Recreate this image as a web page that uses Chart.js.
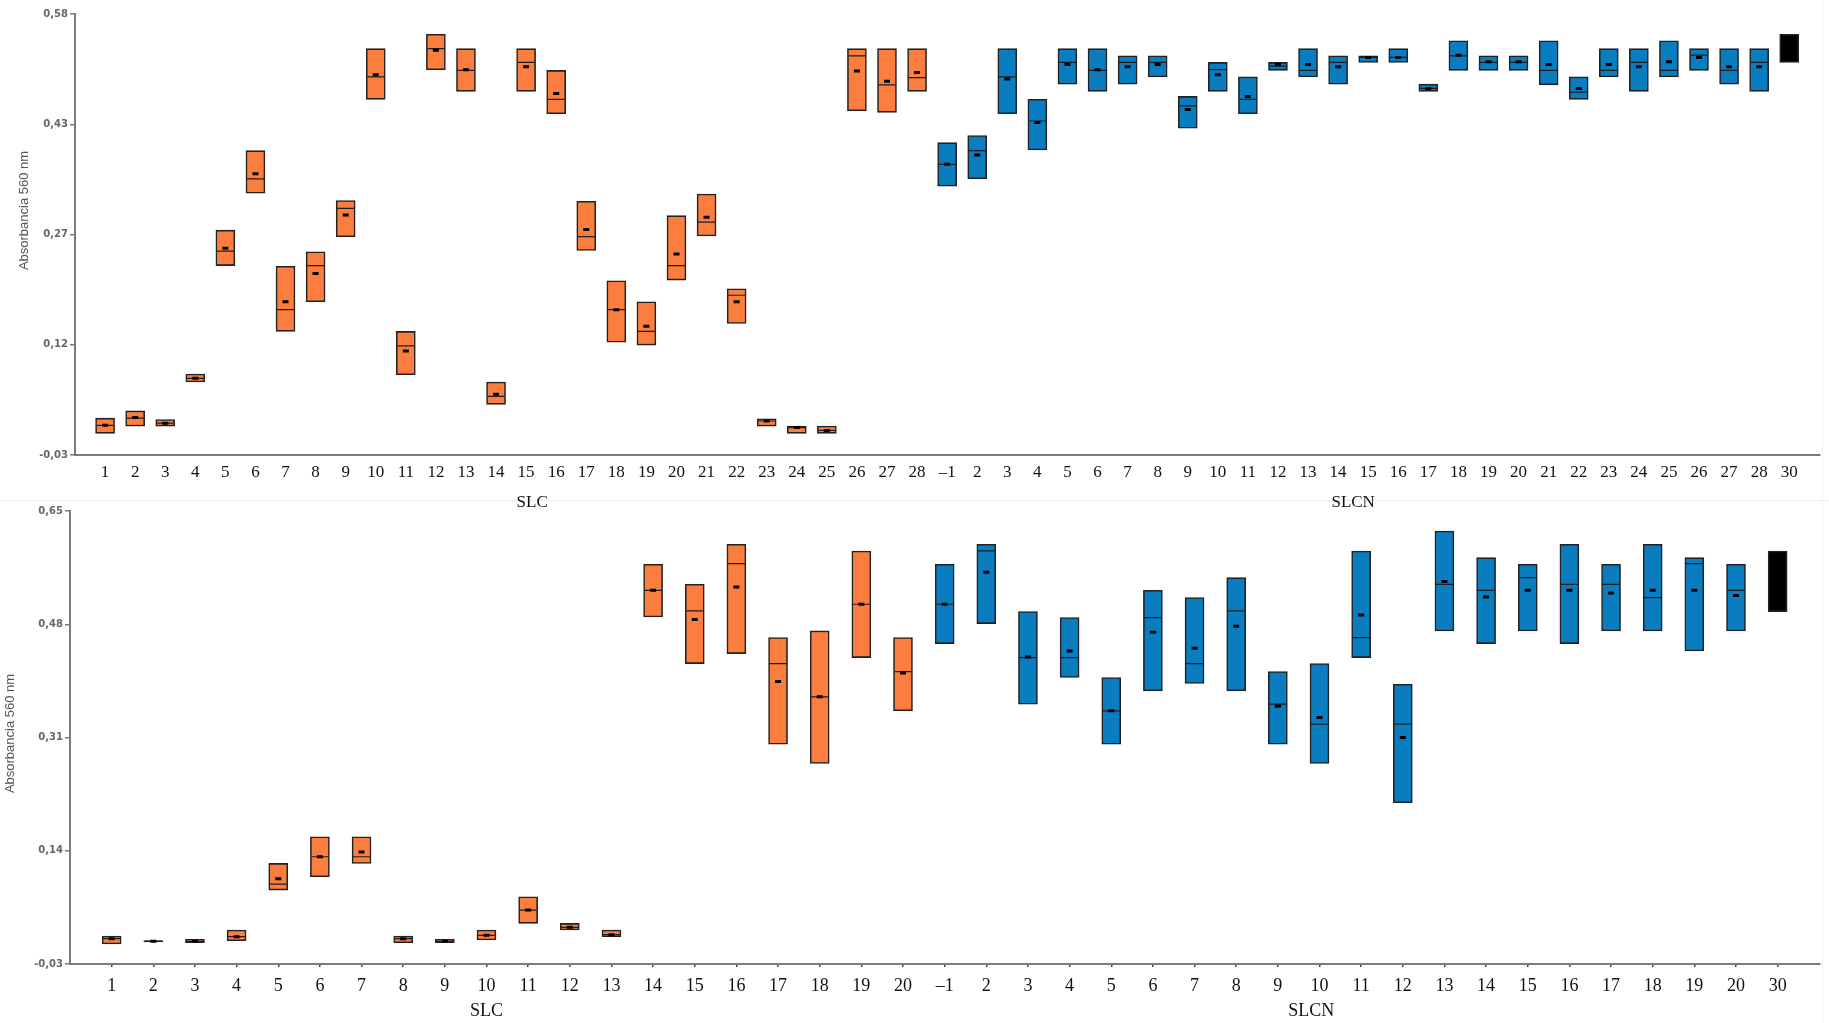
<!DOCTYPE html>
<html>
<head>
<meta charset="utf-8">
<script src="https://cdn.jsdelivr.net/npm/chart.js@4.4.1/dist/chart.umd.min.js"></script>
<style>
  body { margin: 0; background: #fff; width: 1829px; height: 1023px; position: relative; overflow: hidden; }
  canvas { position: absolute; left: 0; }
  #chart1 { top: 0; }
  #chart2 { top: 500px; }
  .sep { position: absolute; left: 0; top: 500px; width: 1829px; height: 1px; background: #ececec; }
  .vsep { position: absolute; left: 1822px; top: 0; width: 1px; height: 1023px; background: #f2f2f2; }
</style>
</head>
<body>
<div class="sep"></div>
<div class="vsep"></div>
<canvas id="chart1" width="1829" height="515"></canvas>
<canvas id="chart2" width="1829" height="523"></canvas>
<script>
// Etiquetas del eje X (panel superior)
const slcTop = ['1','2','3','4','5','6','7','8','9','10','11','12','13','14','15','16','17','18','19','20','21','22','23','24','25','26','27','28'];
const slcnTop = ['–1','2','3','4','5','6','7','8','9','10','11','12','13','14','15','16','17','18','19','20','21','22','23','24','25','26','27','28'];
const ctrlTop = ['30'];

// Panel superior: caja (min - max), mediana y media
const topLow = [0.000,0.010,0.010,0.071,0.232,0.332,0.141,0.182,0.272,0.462,0.081,0.503,0.473,0.040,0.473,0.442,0.253,0.126,0.122,0.212,0.273,0.152,0.010,0.000,0.000,0.446,0.444,0.473,
  0.342,0.352,0.442,0.392,0.483,0.473,0.483,0.493,0.422,0.473,0.442,0.502,0.493,0.483,0.513,0.513,0.473,0.502,0.502,0.502,0.482,0.462,0.493,0.473,0.493,0.502,0.483,0.473,
  0.513];
const topHigh = [0.021,0.031,0.019,0.082,0.281,0.391,0.231,0.251,0.322,0.532,0.141,0.552,0.532,0.071,0.532,0.502,0.321,0.211,0.182,0.301,0.331,0.200,0.020,0.010,0.010,0.532,0.532,0.532,
  0.402,0.412,0.532,0.462,0.532,0.532,0.522,0.522,0.466,0.513,0.493,0.513,0.532,0.522,0.522,0.532,0.483,0.543,0.522,0.522,0.543,0.493,0.532,0.532,0.543,0.532,0.532,0.532,
  0.552];
const topMedian = [0.011,0.021,0.014,0.076,0.252,0.352,0.171,0.232,0.311,0.493,0.121,0.532,0.502,0.051,0.513,0.462,0.272,0.171,0.141,0.232,0.292,0.191,0.017,0.008,0.004,0.522,0.482,0.492,
  0.372,0.391,0.493,0.432,0.513,0.502,0.513,0.513,0.453,0.503,0.462,0.508,0.502,0.513,0.520,0.520,0.477,0.522,0.513,0.513,0.502,0.472,0.502,0.513,0.502,0.523,0.502,0.513,
  null];
const topMean = [0.011,0.022,0.014,0.076,0.256,0.359,0.182,0.221,0.302,0.496,0.114,0.530,0.503,0.054,0.507,0.470,0.282,0.171,0.148,0.248,0.299,0.182,0.017,0.008,0.004,0.501,0.487,0.499,
  0.372,0.385,0.490,0.430,0.510,0.503,0.507,0.510,0.448,0.496,0.466,0.510,0.510,0.507,0.520,0.520,0.477,0.523,0.514,0.514,0.510,0.477,0.510,0.507,0.514,0.520,0.507,0.507,
  null];
const topYTicks = [-0.03, 0.1225, 0.275, 0.4275, 0.58];
const topYLabels = ['-0,03', '0,12', '0,27', '0,43', '0,58'];

// Etiquetas del eje X (panel inferior)
const slcBottom = ['1','2','3','4','5','6','7','8','9','10','11','12','13','14','15','16','17','18','19','20'];
const slcnBottom = ['–1','2','3','4','5','6','7','8','9','10','11','12','13','14','15','16','17','18','19','20'];
const ctrlBottom = ['30'];

// Panel inferior
const bottomLow = [0.000,0.003,0.002,0.005,0.081,0.101,0.121,0.002,0.002,0.006,0.031,0.021,0.011,0.491,0.421,0.436,0.300,0.271,0.430,0.350,
  0.451,0.481,0.360,0.400,0.300,0.380,0.391,0.380,0.300,0.271,0.430,0.212,0.470,0.451,0.470,0.451,0.470,0.470,0.440,0.470,
  0.499];
const bottomHigh = [0.012,0.005,0.007,0.021,0.121,0.161,0.161,0.012,0.007,0.021,0.071,0.031,0.021,0.570,0.540,0.600,0.460,0.470,0.590,0.460,
  0.570,0.600,0.499,0.490,0.400,0.531,0.520,0.550,0.409,0.421,0.590,0.390,0.620,0.580,0.570,0.600,0.570,0.600,0.580,0.570,
  0.590];
const bottomMedian = [0.008,0.004,0.004,0.011,0.090,0.131,0.131,0.008,0.004,0.013,0.051,0.025,0.014,0.531,0.500,0.571,0.421,0.371,0.510,0.409,
  0.510,0.590,0.430,0.430,0.350,0.490,0.421,0.500,0.360,0.330,0.460,0.330,0.540,0.531,0.550,0.540,0.540,0.520,0.571,0.531,
  null];
const bottomMean = [0.008,0.004,0.004,0.011,0.098,0.131,0.138,0.008,0.004,0.013,0.051,0.025,0.014,0.531,0.487,0.536,0.394,0.371,0.510,0.407,
  0.510,0.558,0.431,0.440,0.350,0.468,0.444,0.477,0.357,0.340,0.494,0.310,0.544,0.521,0.531,0.531,0.527,0.531,0.531,0.523,
  null];
const bottomYTicks = [-0.03, 0.14, 0.31, 0.48, 0.65];
const bottomYLabels = ['-0,03', '0,14', '0,31', '0,48', '0,65'];

const ORANGE = '#FC7E3E';
const BLUE = '#0A7DC0';
const BLACK = '#000000';

// Colores por grupo
function groupColors(nSlc, nSlcn, nCtrl) {
    return [].concat(Array(nSlc).fill(ORANGE), Array(nSlcn).fill(BLUE), Array(nCtrl).fill(BLACK));
}

// Nombres de grupo debajo del eje X y titulo del eje Y
const extraText = {
    id: 'extraText',
    afterDraw(chart, args, opts) {
        const ctx = chart.ctx;
        const x = chart.scales.x;
        const area = chart.chartArea;
        ctx.save();
        ctx.font = opts.size + "px 'Liberation Serif', 'Times New Roman', serif";
        ctx.fillStyle = '#111';
        ctx.textAlign = 'center';
        ctx.textBaseline = 'middle';
        opts.names.forEach((n, i) => {
            ctx.fillText(n, x.getPixelForValue(opts.at[i]), x.top + opts.dy);
        });
        // titulo vertical
        ctx.translate(opts.titleX, (area.top + area.bottom) / 2 + opts.titleShift);
        ctx.rotate(-Math.PI / 2);
        ctx.font = "13px 'Liberation Sans Narrow', 'Arial Narrow', sans-serif";
        ctx.fillStyle = '#555';
        ctx.fillText('Absorbancia 560 nm', 0, 0);
        ctx.restore();
    }
};

function createChart(chartId, labels, colors, low, high, median, mean, yTicks, yLabels, texts, lay) {
    const xs = labels.map((l, i) => i + 1);
    const ctx = document.getElementById(chartId).getContext('2d');
    new Chart(ctx, {
        type: 'bar',
        data: {
            datasets: [
                {
                    type: 'line',
                    data: xs.map((x, i) => ({ x: x, y: mean[i] })),
                    showLine: false,
                    pointStyle: 'line',
                    pointRadius: 3,
                    pointBorderWidth: 3,
                    pointBorderColor: '#000',
                    order: 1
                },
                {
                    type: 'line',
                    data: xs.map((x, i) => ({ x: x, y: median[i] })),
                    showLine: false,
                    pointStyle: 'line',
                    pointRadius: lay.barW / 2 - 1,
                    pointBorderWidth: 1.2,
                    pointBorderColor: '#1e1e1e',
                    order: 2
                },
                {
                    type: 'bar',
                    data: xs.map((x, i) => ({ x: x, y: [low[i], high[i]] })),
                    backgroundColor: colors,
                    borderColor: '#222',
                    borderWidth: 1.6,
                    borderSkipped: false,
                    barThickness: lay.barW,
                    order: 3
                }
            ]
        },
        options: {
            responsive: false,
            animation: false,
            devicePixelRatio: 1,
            layout: { padding: { top: lay.top, right: lay.right, left: 0, bottom: 0 } },
            plugins: {
                legend: { display: false },
                tooltip: { enabled: false },
                extraText: texts
            },
            scales: {
                x: {
                    type: 'linear',
                    offset: false,
                    min: 0,
                    max: lay.xMax,
                    afterBuildTicks: s => { s.ticks = xs.map(v => ({ value: v })); },
                    afterFit: s => { s.height = lay.xHeight; },
                    grid: { offset: false, drawOnChartArea: false, drawTicks: lay.xTicks, tickLength: 3, color: '#444', lineWidth: 1.5 },
                    border: { color: '#7a7a7a', width: 2 },
                    ticks: {
                        autoSkip: false,
                        maxRotation: 0,
                        padding: lay.xPad,
                        color: '#111',
                        font: { family: "'Liberation Serif', 'Times New Roman', serif", size: lay.xFont },
                        callback: (v, i) => labels[i]
                    }
                },
                y: {
                    min: yTicks[0],
                    max: yTicks[yTicks.length - 1],
                    afterBuildTicks: s => { s.ticks = yTicks.map(v => ({ value: v })); },
                    afterFit: s => { s.width = lay.yWidth; },
                    grid: { drawOnChartArea: false, drawTicks: true, tickLength: 5, color: '#7a7a7a', lineWidth: 1.5 },
                    border: { color: '#7a7a7a', width: 2 },
                    ticks: {
                        padding: 2,
                        color: '#666',
                        font: { family: "'DejaVu Sans', sans-serif", size: 10, weight: 'bold' },
                        callback: (v, i) => yLabels[i]
                    }
                }
            }
        },
        plugins: [extraText]
    });
}

// Panel superior
createChart(
    'chart1',
    slcTop.concat(slcnTop, ctrlTop),
    groupColors(slcTop.length, slcnTop.length, ctrlTop.length),
    topLow, topHigh, topMedian, topMean,
    topYTicks, topYLabels,
    { names: ['SLC', 'SLCN'], at: [15.2, 42.5], dy: 48, size: 17, titleX: 24, titleShift: -24 },
    { top: 14, right: 9, xMax: 58, xHeight: 60, yWidth: 75, barW: 19, xTicks: false, xPad: 7, xFont: 17 }
);

// Panel inferior
createChart(
    'chart2',
    slcBottom.concat(slcnBottom, ctrlBottom),
    groupColors(slcBottom.length, slcnBottom.length, ctrlBottom.length),
    bottomLow, bottomHigh, bottomMedian, bottomMean,
    bottomYTicks, bottomYLabels,
    { names: ['SLC', 'SLCN'], at: [10, 29.8], dy: 47, size: 18, titleX: 10, titleShift: -4 },
    { top: 11, right: 9, xMax: 42, xHeight: 59, yWidth: 70, barW: 19, xTicks: true, xPad: 8, xFont: 18 }
);
</script>
</body>
</html>
